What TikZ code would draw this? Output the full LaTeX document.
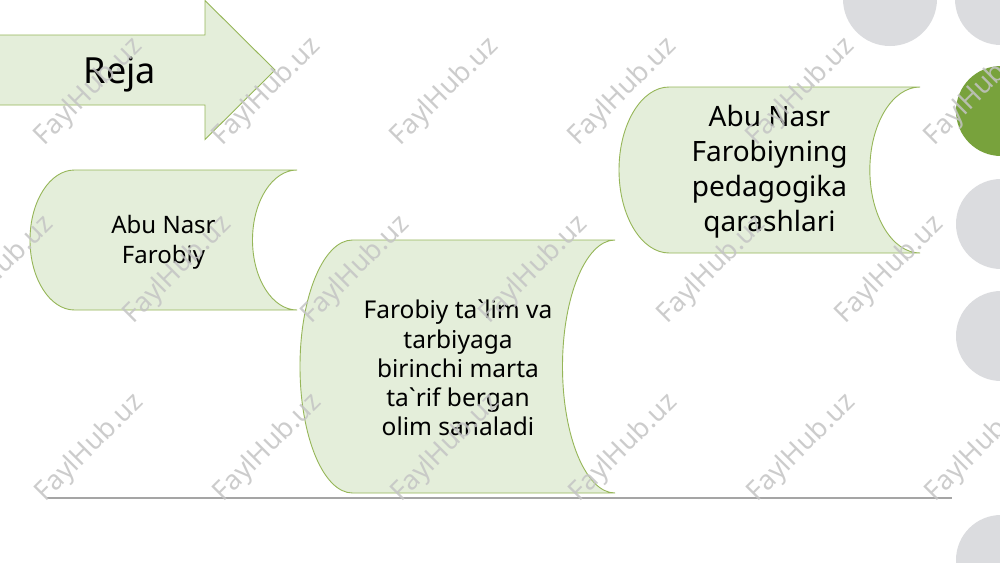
\documentclass[tikz,border=0pt]{standalone}
\usepackage{fontspec}
\setmainfont{Noto Sans}
\definecolor{boxfill}{RGB}{228,238,218}
\definecolor{boxdraw}{RGB}{150,182,88}
\definecolor{dotgrey}{RGB}{219,220,223}
\definecolor{dotgreen}{RGB}{120,162,60}
\definecolor{rulegrey}{RGB}{165,165,165}
\definecolor{wmgrey}{RGB}{196,196,196}
\tikzset{
  shapebox/.style={fill=boxfill, draw=boxdraw, line width=0.9pt},
  boxtext/.style={align=center, text=black, inner sep=0pt},
  dot/.style={fill=dotgrey, draw=none},
  wmark/.style={text=wmgrey, font=\bfseries\fontsize{27}{27}\selectfont, rotate=45, opacity=0.85, inner sep=0pt}
}
% stored data shape: left, top, right, bottom
\newcommand\storedshape[4]{%
  \pgfmathsetmacro\sdL{#1}\pgfmathsetmacro\sdT{#2}%
  \pgfmathsetmacro\sdR{#3}\pgfmathsetmacro\sdB{#4}%
  \pgfmathsetmacro\sdd{(\sdR-\sdL)/6}%
  \pgfmathsetmacro\sdh{(\sdB-\sdT)/2}%
  \pgfmathsetmacro\sdM{\sdT+\sdh}%
  \pgfmathsetmacro\sdk{0.5523*\sdd}%
  \pgfmathsetmacro\sdkh{0.5523*\sdh}%
  \path[shapebox] (\sdL+\sdd,\sdT)
    .. controls (\sdL+\sdd-\sdk,\sdT) and (\sdL,\sdM-\sdkh) .. (\sdL,\sdM)
    .. controls (\sdL,\sdM+\sdkh) and (\sdL+\sdd-\sdk,\sdB) .. (\sdL+\sdd,\sdB)
    -- (\sdR,\sdB)
    .. controls (\sdR-\sdk,\sdB) and (\sdR-\sdd,\sdM+\sdkh) .. (\sdR-\sdd,\sdM)
    .. controls (\sdR-\sdd,\sdM-\sdkh) and (\sdR-\sdk,\sdT) .. (\sdR,\sdT)
    -- cycle;%
}
\begin{document}
\begin{tikzpicture}[x=1pt,y=-1pt]
\useasboundingbox (0,0) rectangle (1000,562);
\fill[white] (0,0) rectangle (1000,562);

% decorative circles
\fill[dot] (890,-1) circle (47);
\fill[dot] (1001,-1) circle (46);
\fill[dotgreen] (1001,111) circle (45);
\fill[dot] (1001,224) circle (45);
\fill[dot] (1001,336) circle (45);
\fill[dot] (1001,560) circle (45);

% bottom rule
\coordinate (ruleL) at (47,498);
\coordinate (ruleR) at (952,498);
\draw[rulegrey, line width=1.2pt] (ruleL) -- (ruleR);

% arrow "Reja"
\path[fill=boxfill] (-2,35) -- (205,35) -- (205,0.5) -- (275,70) -- (205,139.5) -- (205,105) -- (-2,105) -- cycle;
\draw[boxdraw, line width=0.9pt] (-2,35) -- (205,35) -- (205,0.5) -- (275,70) -- (205,139.5) -- (205,105) -- (-2,105);
\node[boxtext, font=\fontsize{36}{40}\selectfont] (reja) at (120,75) {Reja};

% stored data shapes
\storedshape{30}{170}{297}{310}
\node[boxtext, font=\fontsize{24}{30}\selectfont] (s1) at (163.5,242) {Abu Nasr\\Farobiy};

\storedshape{300}{240}{615}{493}
\node[boxtext, font=\fontsize{24.5}{29.2}\selectfont] (s2) at (458,368) {Farobiy ta\textasciigrave lim va\\tarbiyaga\\birinchi marta\\ta\textasciigrave rif bergan\\olim sanaladi};

\storedshape{619}{87}{920}{253}
\node[boxtext, font=\fontsize{28}{35}\selectfont] (s3) at (769.5,172) {Abu Nasr\\Farobiyning\\pedagogika\\qarashlari};

% watermarks
\foreach \x in {89,267,445,623,801,979} {
  \node[wmark] at (\x,92) {FaylHub.uz};
  \node[wmark] at (\x+1,448) {FaylHub.uz};
}
\foreach \x in {0,178,356,534,712,890} {
  \node[wmark] at (\x,270) {FaylHub.uz};
}
\end{tikzpicture}
\end{document}
